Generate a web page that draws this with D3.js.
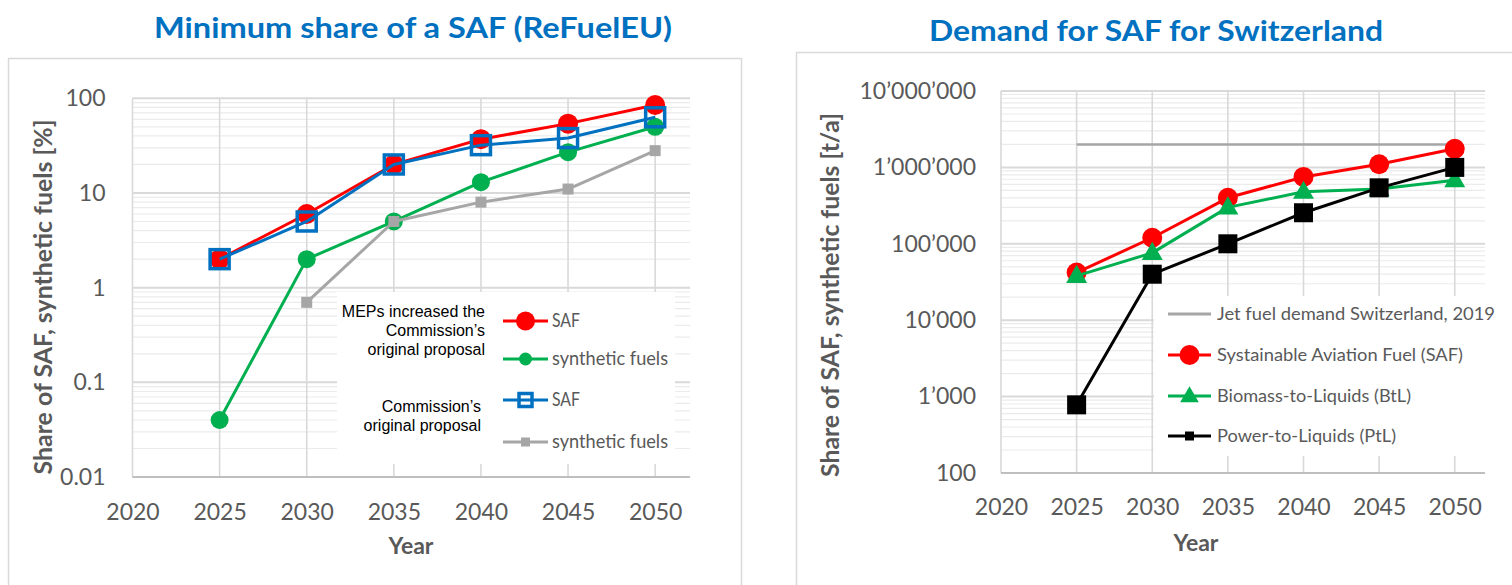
<!DOCTYPE html>
<html>
<head>
<meta charset="utf-8">
<script src="https://cdn.jsdelivr.net/npm/d3@7"></script>
<style>
  body { margin: 0; background: #fff; }
  svg { display: block; }
</style>
</head>
<body>
<script>
// ---- data ----
const years = [2025, 2030, 2035, 2040, 2045, 2050];
const xTicks = [2020, 2025, 2030, 2035, 2040, 2045, 2050];

// ReFuelEU, % share
const mepSaf = [2, 6, 20, 37, 54, 85];
const mepSynth = [0.04, 2, 5, 13, 27, 50];
const comSaf = [2, 5, 20, 32, 38, 63];
const comSynth = [null, 0.7, 5, 8, 11, 28];
const pctTicks = [0.01, 0.1, 1, 10, 100];
const pctLabels = ["0.01", "0.1", "1", "10", "100"];

// Switzerland, t/a
const chSaf = [42000, 120000, 400000, 750000, 1100000, 1750000];
const chBtl = [38000, 76000, 300000, 480000, 520000, 680000];
const chPtl = [780, 40000, 100000, 255000, 540000, 1000000];
const jetYears = [2025, 2050];
const jetDemand = [2000000, 2000000];
const tonTicks = [100, 1000, 10000, 100000, 1000000, 10000000];
const tonLabels = ["100", "1’000", "10’000", "100’000", "1’000’000", "10’000’000"];

const W = 1512, H = 585;
const GREY_TXT = "#595959";
const FONT = "Lato, 'Open Sans', sans-serif";

const svg = d3.select("body").append("svg").attr("width", W).attr("height", H);
svg.append("rect").attr("width", W).attr("height", H).attr("fill", "#fff");

const fit = (sel, w) => sel.attr("textLength", w).attr("lengthAdjust", "spacingAndGlyphs");
const toPts = (xs, vs) => xs.map((yr, i) => ({ yr, v: vs[i] })).filter(d => d.v != null);

// panel frames
svg.append("rect").attr("x", 8.5).attr("y", 58.5).attr("width", 733).attr("height", 600)
  .attr("fill", "none").attr("stroke", "#D9D9D9").attr("stroke-width", 1.5);
svg.append("rect").attr("x", 796.5).attr("y", 52.5).attr("width", 800).attr("height", 600)
  .attr("fill", "none").attr("stroke", "#D9D9D9").attr("stroke-width", 1.5);

// titles
fit(svg.append("text").attr("x", 413).attr("y", 38).attr("text-anchor", "middle")
  .attr("font-family", FONT).attr("font-weight", "bold").attr("font-size", 29)
  .attr("fill", "#0070C0").text("Minimum share of a SAF (ReFuelEU)"), 518);
fit(svg.append("text").attr("x", 1156).attr("y", 41).attr("text-anchor", "middle")
  .attr("font-family", FONT).attr("font-weight", "bold").attr("font-size", 29)
  .attr("fill", "#0070C0").text("Demand for SAF for Switzerland"), 454);

function drawFrame(g, x, y, yTicks, yLabels, opt) {
  const [x0, x1] = x.range();
  const [yb, yt] = y.range();
  const isMajor = v => Math.abs(Math.log10(v) - Math.round(Math.log10(v))) < 1e-9;
  const all = y.ticks();
  g.selectAll(".minor").data(all.filter(v => !isMajor(v))).join("line")
    .attr("x1", x0).attr("x2", x1).attr("y1", d => y(d)).attr("y2", d => y(d))
    .attr("stroke", "#EBEBEB").attr("stroke-width", 1.2);
  g.selectAll(".major").data(yTicks).join("line")
    .attr("x1", x0).attr("x2", x1).attr("y1", d => y(d)).attr("y2", d => y(d))
    .attr("stroke", "#D9D9D9").attr("stroke-width", 2);
  g.selectAll(".vgrid").data(xTicks).join("line")
    .attr("x1", d => x(d)).attr("x2", d => x(d)).attr("y1", yt).attr("y2", yb)
    .attr("stroke", "#D9D9D9").attr("stroke-width", 1.6);
  g.append("line").attr("x1", x0).attr("x2", x1).attr("y1", yb).attr("y2", yb)
    .attr("stroke", "#BFBFBF").attr("stroke-width", 2);

  const ax = g.append("g").attr("transform", `translate(0,${yb})`)
    .call(d3.axisBottom(x).tickValues(xTicks).tickFormat(d3.format("d")).tickSize(0).tickPadding(opt.xPad));
  const ay = g.append("g").attr("transform", `translate(${x0},0)`)
    .call(d3.axisLeft(y).tickValues(yTicks).tickFormat((d, i) => yLabels[i]).tickSize(0).tickPadding(opt.yPad));
  [ax, ay].forEach(a => {
    a.select(".domain").remove();
    a.selectAll("text").attr("font-family", FONT).attr("font-size", 23).attr("fill", GREY_TXT);
  });

  g.append("text").attr("x", opt.yearX).attr("y", opt.yearY).attr("text-anchor", "middle")
    .attr("font-family", FONT).attr("font-weight", "bold").attr("font-size", 23)
    .attr("fill", GREY_TXT).text("Year");
  fit(g.append("text").attr("transform", `translate(${opt.titleX},${opt.titleY}) rotate(-90)`)
    .attr("text-anchor", "middle")
    .attr("font-family", FONT).attr("font-weight", "bold").attr("font-size", 24)
    .attr("fill", GREY_TXT).text(opt.title), opt.titleW);
}

function marker(g, type, cx, cy, s, color) {
  if (type === "circle") {
    g.append("circle").attr("cx", cx).attr("cy", cy).attr("r", s).attr("fill", color);
  } else if (type === "square") {
    g.append("rect").attr("x", cx - s / 2).attr("y", cy - s / 2).attr("width", s).attr("height", s).attr("fill", color);
  } else if (type === "hollow") {
    g.append("rect").attr("x", cx - s / 2).attr("y", cy - s / 2).attr("width", s).attr("height", s)
      .attr("fill", "none").attr("stroke", color).attr("stroke-width", 3.5);
  } else if (type === "triangle") {
    g.append("path").attr("transform", `translate(${cx},${cy + 1})`)
      .attr("d", d3.symbol(d3.symbolTriangle, s)()).attr("fill", color);
  }
}

function drawSeries(g, x, y, pts, color, width, type, size) {
  const line = d3.line().x(d => x(d.yr)).y(d => y(d.v));
  g.append("path").datum(pts).attr("d", line).attr("fill", "none")
    .attr("stroke", color).attr("stroke-width", width).attr("stroke-linejoin", "round");
  if (type) pts.forEach(d => marker(g, type, x(d.yr), y(d.v), size, color));
}

function legendRow(g, lx, ly, tx, color, type, size, label, tw, fs) {
  g.append("line").attr("x1", lx[0]).attr("x2", lx[1]).attr("y1", ly).attr("y2", ly)
    .attr("stroke", color).attr("stroke-width", 3);
  if (type) marker(g, type, (lx[0] + lx[1]) / 2, ly, size, color);
  fit(g.append("text").attr("x", tx).attr("y", ly + 6).attr("font-family", FONT)
    .attr("font-size", fs).attr("fill", GREY_TXT).text(label), tw);
}

// ---- left chart ----
{
  const g = svg.append("g");
  const x = d3.scaleLinear().domain([2020, 2052]).range([132.5, 690]);
  const y = d3.scaleLog().domain([0.01, 100]).range([477, 98.3]);
  drawFrame(g, x, y, pctTicks, pctLabels, {
    xPad: 27, yPad: 27, yearX: 411, yearY: 554, titleX: 52, titleY: 297, titleW: 355,
    title: "Share of SAF, synthetic fuels [%]"
  });
  g.append("rect").attr("x", 337).attr("y", 292).attr("width", 338).attr("height", 172).attr("fill", "#fff");

  drawSeries(g, x, y, toPts(years, mepSaf), "#FF0000", 3, "circle", 10);
  drawSeries(g, x, y, toPts(years, mepSynth), "#00B050", 3, "circle", 9);
  drawSeries(g, x, y, toPts(years, comSynth), "#A6A6A6", 3, "square", 11);
  drawSeries(g, x, y, toPts(years, comSaf), "#0070C0", 3, "hollow", 19);

  legendRow(g, [503, 548], 321, 552, "#FF0000", "circle", 9.5, "SAF", 28, 18.5);
  legendRow(g, [503, 548], 359, 552, "#00B050", "circle", 6.5, "synthetic fuels", 116, 18.5);
  legendRow(g, [503, 548], 400, 552, "#0070C0", "hollow", 13, "SAF", 28, 18.5);
  legendRow(g, [503, 548], 442, 552, "#A6A6A6", "square", 9, "synthetic fuels", 116, 18.5);

  const note = (lines, xr, ys) => lines.forEach((t, i) =>
    g.append("text").attr("x", xr).attr("y", ys[i]).attr("text-anchor", "end")
      .attr("font-family", "'Liberation Sans', Arial, sans-serif").attr("font-size", 16)
      .attr("fill", "#000").text(t));
  note(["MEPs increased the", "Commission’s", "original proposal"], 485, [317, 336, 355]);
  note(["Commission’s", "original proposal"], 481, [412, 431]);
}

// ---- right chart ----
{
  const g = svg.append("g");
  const x = d3.scaleLinear().domain([2020, 2052]).range([1001, 1485]);
  const y = d3.scaleLog().domain([100, 1e7]).range([473, 91]);
  drawFrame(g, x, y, tonTicks, tonLabels, {
    xPad: 26, yPad: 25, yearX: 1196, yearY: 551, titleX: 839, titleY: 295, titleW: 364,
    title: "Share of SAF, synthetic fuels [t/a]"
  });
  g.append("rect").attr("x", 1154).attr("y", 296).attr("width", 358).attr("height", 160).attr("fill", "#fff");

  drawSeries(g, x, y, toPts(jetYears, jetDemand), "#A6A6A6", 2.5, null, 0);
  drawSeries(g, x, y, toPts(years, chSaf), "#FF0000", 3, "circle", 10);
  drawSeries(g, x, y, toPts(years, chBtl), "#00B050", 3, "triangle", 190);
  drawSeries(g, x, y, toPts(years, chPtl), "#000000", 3, "square", 19);

  legendRow(g, [1168, 1211], 314, 1217, "#A6A6A6", null, 0, "Jet fuel demand Switzerland, 2019", 278, 17.5);
  legendRow(g, [1168, 1211], 355, 1217, "#FF0000", "circle", 10, "Systainable Aviation Fuel (SAF)", 246, 17.5);
  legendRow(g, [1168, 1211], 396, 1217, "#00B050", "triangle", 150, "Biomass-to-Liquids (BtL)", 194, 17.5);
  legendRow(g, [1168, 1211], 436, 1217, "#000000", "square", 9, "Power-to-Liquids (PtL)", 179, 17.5);
}
</script>
</body>
</html>
